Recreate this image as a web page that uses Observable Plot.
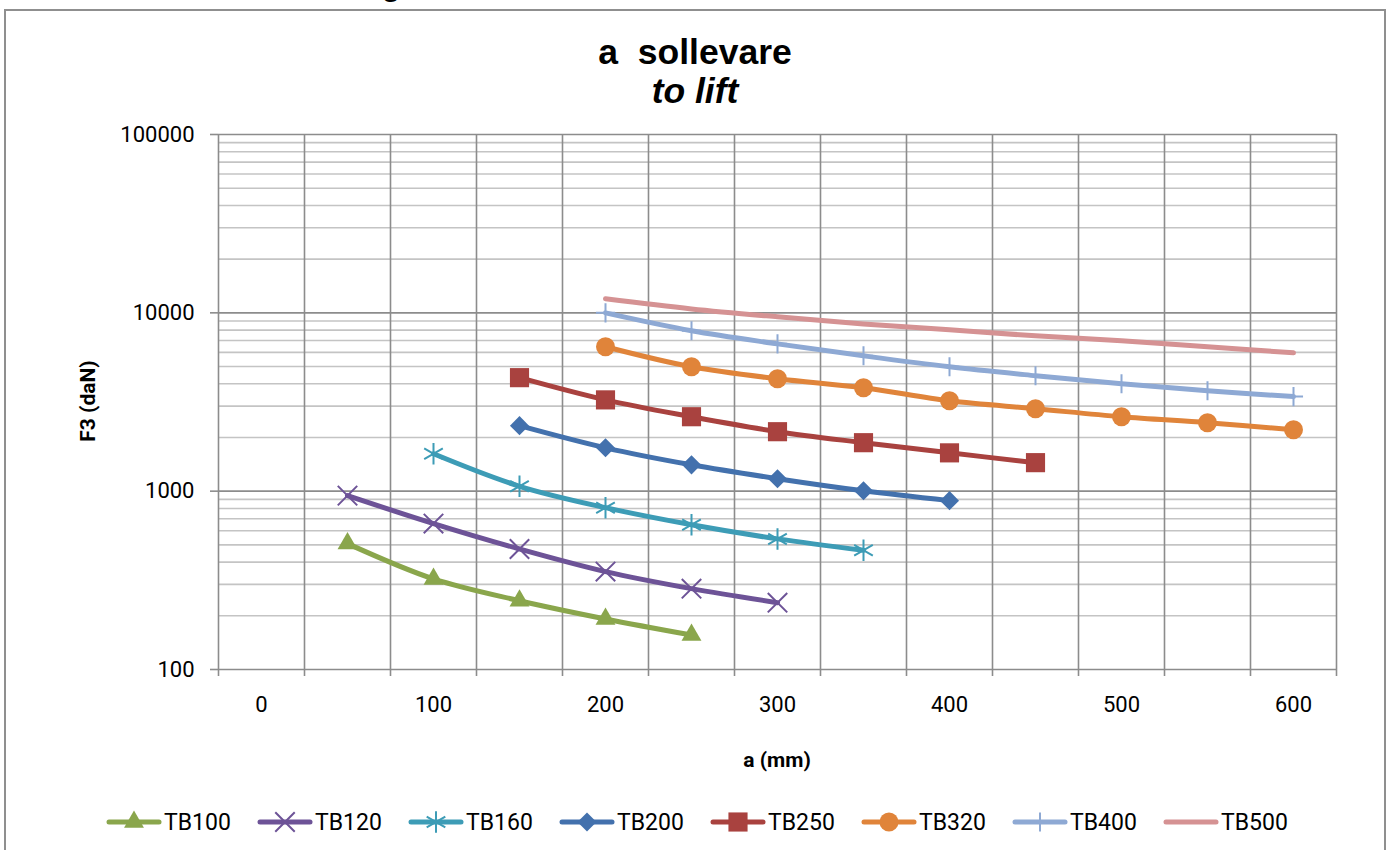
<!DOCTYPE html>
<html>
<head>
<meta charset="utf-8">
<script src="https://cdn.jsdelivr.net/npm/d3@7"></script>
<script src="https://cdn.jsdelivr.net/npm/@observablehq/plot@0.6"></script>
<style>
  html, body { margin: 0; padding: 0; background: #fff; }
  body { width: 1396px; height: 850px; overflow: hidden; position: relative; font-family: Roboto, "Noto Sans", sans-serif; }
  #frame { position: absolute; left: 4px; top: 9px; width: 1382px; height: 900px; border: 2px solid #8f8f8f; box-sizing: border-box; }
  #cut { position: absolute; left: 382px; top: -31px; font: bold 30px "Liberation Sans", Arial, sans-serif; color: #000; }
  .title { position: absolute; left: 4px; width: 1382px; text-align: center; font-family: "Liberation Sans", Arial, sans-serif; font-weight: bold; font-size: 35.5px; color: #000; white-space: pre; line-height: 40px; }
  #t1 { top: 32px; }
  #t2 { top: 71px; font-style: italic; }
  #chart { position: absolute; left: 0; top: 0; }
  .axtitle { position: absolute; font-family: Roboto, sans-serif; font-weight: bold; font-size: 21px; color: #000; white-space: nowrap; }
  #xt { left: 777px; top: 760px; transform: translate(-50%, -50%); }
  #yt { left: 88px; top: 401px; transform: translate(-50%, -50%) rotate(-90deg); }
  #legend { position: absolute; left: 105px; top: 806px; display: flex; }
  .item { width: 151px; display: flex; align-items: center; height: 32px; }
  .item span { font-size: 23px; color: #000; margin-left: 1px; }
</style>
</head>
<body>
<div id="frame"></div>
<div id="cut">g</div>
<div class="title" id="t1">a  sollevare</div>
<div class="title" id="t2">to lift</div>
<div id="chart"></div>
<div class="axtitle" id="xt">a (mm)</div>
<div class="axtitle" id="yt">F3 (daN)</div>
<div id="legend"></div>
<script>
// ---- data ----
const aMM = [50, 100, 150, 200, 250, 300, 350, 400, 450, 500, 550, 600];
const seriesNames = ["TB100", "TB120", "TB160", "TB200", "TB250", "TB320", "TB400", "TB500"];
const TB100 = [508, 322, 243, 192, 156, null, null, null, null, null, null, null];
const TB120 = [944, 658, 474, 354, 284, 237, null, null, null, null, null, null];
const TB160 = [null, 1620, 1065, 808, 648, 540, 466, null, null, null, null, null];
const TB200 = [null, null, 2330, 1750, 1405, 1175, 1005, 885, null, null, null, null];
const TB250 = [null, null, 4330, 3250, 2615, 2155, 1870, 1640, 1445, null, null, null];
const TB320 = [null, null, null, 6450, 4980, 4270, 3800, 3210, 2900, 2615, 2420, 2210];
const TB400 = [null, null, null, 10000, 7940, 6700, 5740, 4980, 4440, 4000, 3660, 3390];
const TB500 = [null, null, null, 11980, 10520, 9500, 8670, 8030, 7430, 6970, 6450, 5970];
const seriesValues = [TB100, TB120, TB160, TB200, TB250, TB320, TB400, TB500];
const seriesColors = ["#8aa64c", "#6d5397", "#3d9cb6", "#4371ad", "#a9423f", "#e0843a", "#8ea9d4", "#d59293"];
const seriesSymbols = ["triangle", "times", "asterisk", "diamond2", "square", "circle", "plus", null];
const symbolR = [7.4, 8.9, 10.2, 8.6, 10.8, 9.5, 6.2, 0];
const strokedSymbols = ["times", "asterisk", "plus"];

// ticks / grid
const xLabelTicks = [0, 100, 200, 300, 400, 500, 600];
const xGridTicks = [-25, 25, 75, 125, 175, 225, 275, 325, 375, 425, 475, 525, 575, 625];
const yMajorTicks = [100, 1000, 10000, 100000];
const yMinorTicks = [];
for (const d of [100, 1000, 10000]) for (let k = 2; k <= 9; k++) yMinorTicks.push(d * k);

// ---- build ----
const marks = [
  Plot.ruleY(yMinorTicks, {stroke: "#c4c4c4", strokeWidth: 1.6}),
  Plot.ruleY(yMajorTicks, {stroke: "#8c8c8c", strokeWidth: 1.6}),
  Plot.ruleX(xGridTicks, {stroke: "#8c8c8c", strokeWidth: 1.6}),
  Plot.axisX({ticks: xGridTicks, tickSize: 7, text: null, stroke: "#8c8c8c", strokeWidth: 1.6, label: null}),
  Plot.axisX({ticks: xLabelTicks, tickSize: 0, tickPadding: 27, fontSize: 22, label: null}),
  Plot.axisY({ticks: yMajorTicks, tickSize: 8, tickPadding: 16, fontSize: 22, stroke: "#8c8c8c", strokeWidth: 1.6, tickFormat: d3.format("d"), label: null})
];

seriesNames.forEach((name, i) => {
  const pts = aMM.map((a, j) => ({a, v: seriesValues[i][j]})).filter(p => p.v != null);
  marks.push(Plot.line(pts, {x: "a", y: "v", stroke: seriesColors[i], strokeWidth: 5, curve: "catmull-rom", strokeLinecap: "round", strokeLinejoin: "round"}));
  const sym = seriesSymbols[i];
  if (sym) {
    const stroked = strokedSymbols.includes(sym);
    marks.push(Plot.dot(pts, {
      x: "a", y: "v", symbol: () => sym, r: symbolR[i],
      fill: stroked ? "none" : seriesColors[i],
      stroke: stroked ? seriesColors[i] : "none",
      strokeWidth: stroked ? 2 : 0
    }));
  }
});

const chart = Plot.plot({
  width: 1396,
  height: 790,
  marginLeft: 218,
  marginRight: 60,
  marginTop: 134,
  marginBottom: 121,
  x: {type: "linear", domain: [-25, 625]},
  y: {type: "log", domain: [100, 100000]},
  style: {background: "transparent", fontFamily: "Roboto, sans-serif", fontSize: "22px", color: "#000", overflow: "visible"},
  marks
});
document.getElementById("chart").appendChild(chart);

// ---- legend ----
const legend = d3.select("#legend");
const symbolTypes = {triangle: d3.symbolTriangle, times: d3.symbolTimes, asterisk: d3.symbolAsterisk, diamond2: d3.symbolDiamond2, square: d3.symbolSquare, circle: d3.symbolCircle, plus: d3.symbolPlus};
seriesNames.forEach((name, i) => {
  const item = legend.append("div").attr("class", "item");
  const svg = item.append("svg").attr("width", 58).attr("height", 32);
  svg.append("line").attr("x1", 4).attr("x2", 54).attr("y1", 16).attr("y2", 16)
    .attr("stroke", seriesColors[i]).attr("stroke-width", 5).attr("stroke-linecap", "round");
  const sym = seriesSymbols[i];
  if (sym) {
    const stroked = strokedSymbols.includes(sym);
    svg.append("path")
      .attr("transform", "translate(29,16)")
      .attr("d", d3.symbol(symbolTypes[sym], Math.PI * symbolR[i] * symbolR[i])())
      .attr("fill", stroked ? "none" : seriesColors[i])
      .attr("stroke", stroked ? seriesColors[i] : "none")
      .attr("stroke-width", stroked ? 2 : 0);
  }
  item.append("span").text(name);
});
</script>
</body>
</html>
